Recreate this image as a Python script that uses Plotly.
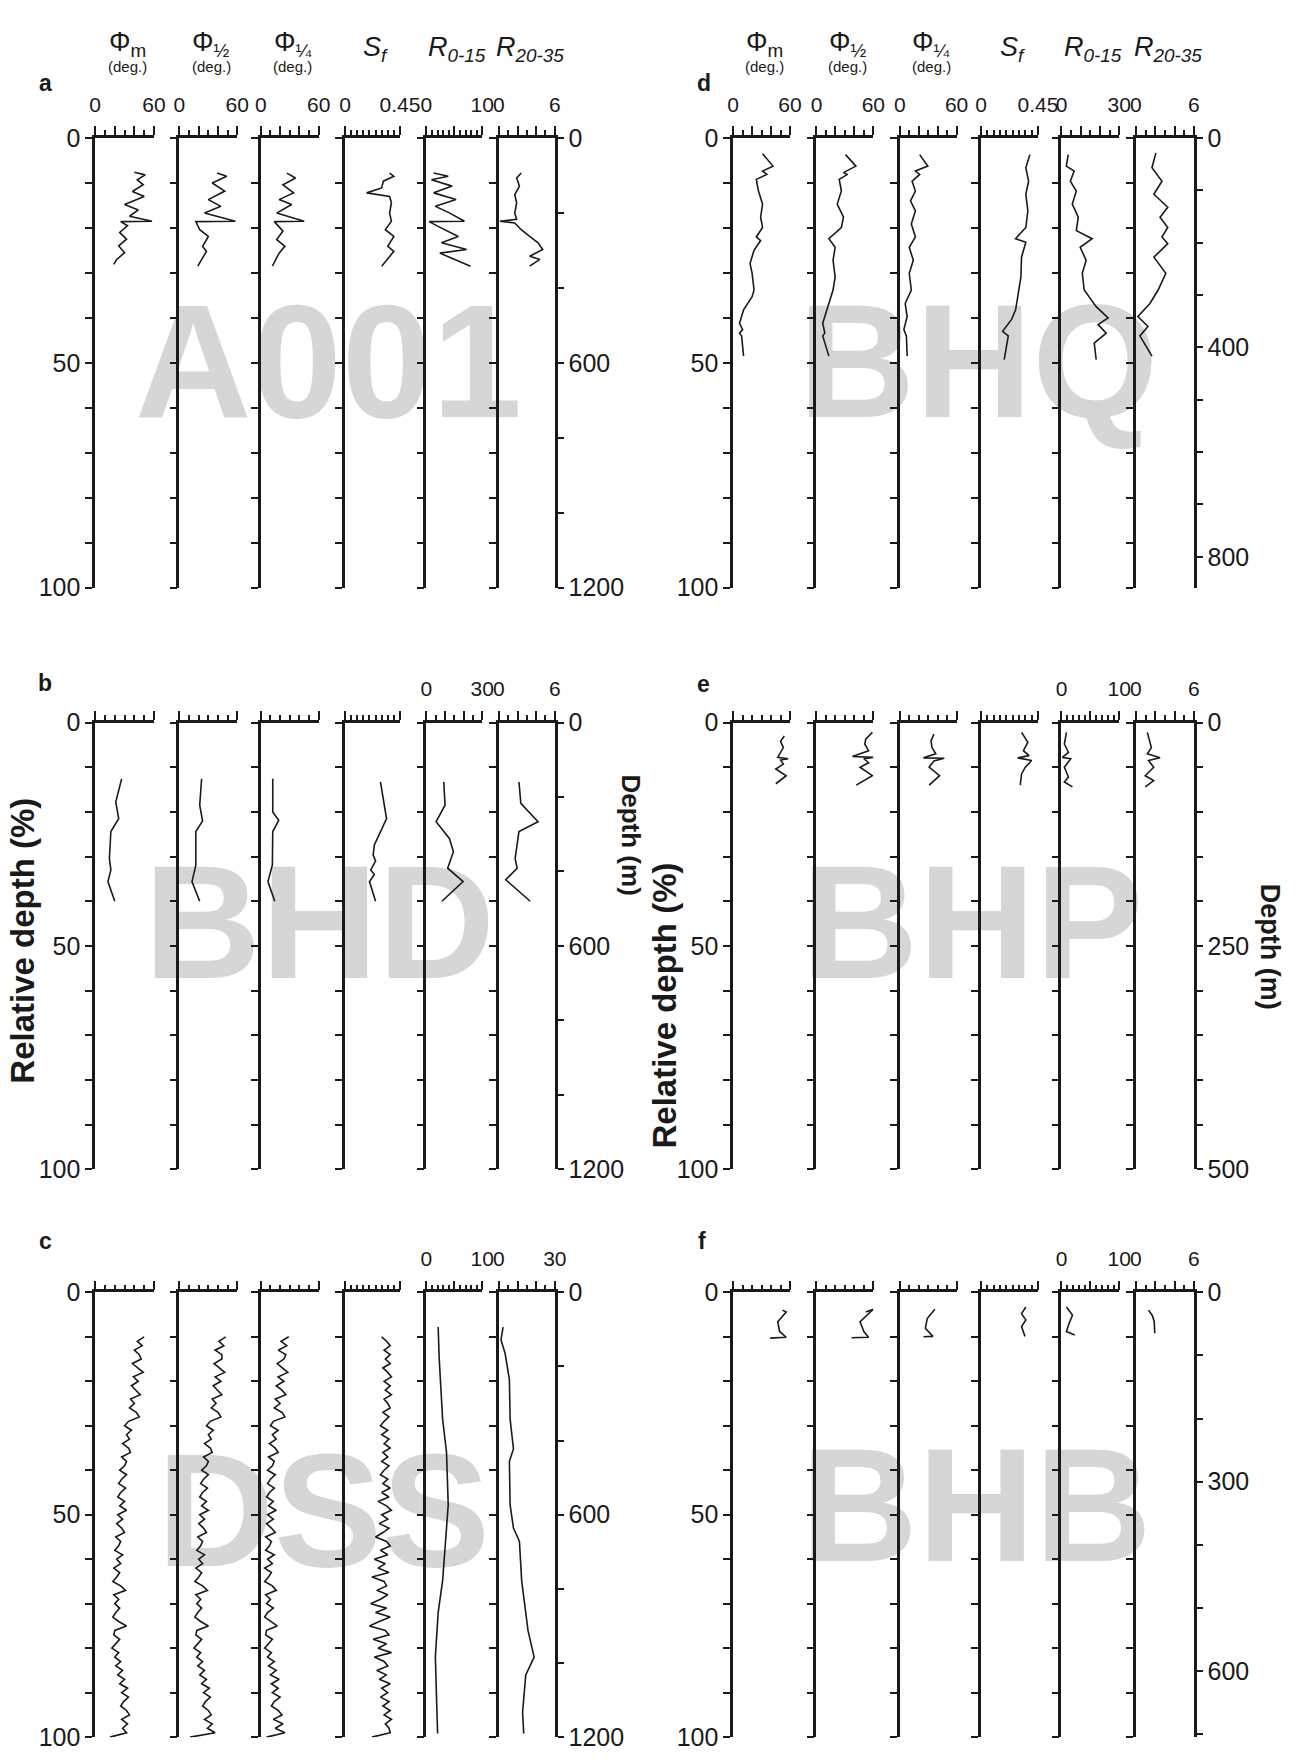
import plotly.graph_objects as go

W, H = 1301, 1760
FONT = "Liberation Sans, Arial, sans-serif"
BLACK = "#1a1a1a"
GRAY = "#d6d6d8"

# ---------------- data ----------------
# Panel a : A001
A_PHIM_D = [7.6, 8.2, 9.3, 10.4, 11.9, 13.0, 14.8, 16.0, 17.4, 18.5, 18.6, 19.5, 21.0, 22.5, 24.0, 25.5, 27.0, 28.1]
A_PHIM_X = [40, 51, 43, 49, 38, 50, 30, 44, 35, 58, 26, 33, 25, 32, 24, 30, 22, 19]
A_PHIH_D = [7.8, 8.5, 10.0, 11.8, 13.7, 15.2, 16.7, 18.5, 18.6, 20.4, 21.9, 24.1, 25.2, 28.5]
A_PHIH_X = [39, 49, 34, 47, 30, 43, 26, 58, 17, 21, 30, 24, 28, 19]
A_PHIQ_D = [7.8, 8.9, 10.4, 12.2, 13.7, 14.8, 16.7, 18.5, 18.6, 20.7, 22.6, 24.1, 25.6, 28.5]
A_PHIQ_X = [27, 36, 23, 34, 19, 32, 16.5, 45, 14, 23, 16.5, 25, 19, 12]
A_SF_D = [7.8, 8.5, 9.6, 11.1, 12.2, 13.0, 14.4, 16.7, 18.5, 20.4, 21.9, 24.1, 25.2, 28.5]
A_SF_X = [0.365, 0.40, 0.314, 0.30, 0.177, 0.365, 0.38, 0.365, 0.38, 0.33, 0.40, 0.35, 0.40, 0.30]
A_R015_D = [7.8, 8.5, 9.3, 10.7, 12.2, 13.7, 15.2, 16.7, 18.5, 18.6, 19.6, 21.9, 23.3, 24.8, 25.6, 28.5]
A_R015_X = [1.3, 3.9, 0.9, 4.6, 1.3, 5.3, 1.6, 4.2, 6.8, 0.5, 2.0, 5.7, 2.7, 7.2, 2.4, 7.9]
A_R2035_D = [7.8, 8.9, 10.7, 12.6, 14.4, 16.7, 18.1, 18.5, 18.9, 20.4, 21.9, 23.3, 24.8, 26.3, 27.0, 28.5]
A_R2035_X = [2.4, 1.9, 2.2, 1.7, 1.9, 1.7, 1.9, 0.1, 1.7, 2.4, 3.3, 4.2, 4.7, 3.3, 4.4, 3.3]

# Panel b : BHD
B_PHIM_D = [12.6, 17.8, 21.5, 24.4, 30.4, 33.0, 35.6, 40.0]
B_PHIM_X = [27, 21, 24, 16, 14.5, 16, 13, 20]
B_PHIH_D = [12.6, 18.5, 22.0, 24.4, 31.9, 35.6, 40.0]
B_PHIH_X = [23, 21, 24, 17, 17, 13, 21]
B_PHIQ_D = [12.6, 20.0, 21.9, 24.4, 31.9, 33.5, 35.6, 40.0]
B_PHIQ_X = [12.4, 12.4, 18.6, 12.4, 12, 10, 7.4, 14.5]
B_SF_D = [13.3, 21.5, 27.4, 29.6, 31.0, 33.0, 34.0, 35.6, 40.0]
B_SF_X = [0.29, 0.34, 0.24, 0.23, 0.25, 0.21, 0.24, 0.20, 0.25]
B_R015_D = [13.3, 18.5, 22.2, 26.0, 28.9, 32.6, 35.6, 40.0]
B_R015_X = [9.3, 10, 5.2, 12.4, 14.5, 11.4, 19.7, 8.3]
B_R2035_D = [13.3, 18.1, 22.2, 24.4, 30.4, 32.6, 35.2, 40.0]
B_R2035_X = [2.15, 2.35, 4.2, 2.15, 1.74, 1.95, 0.73, 3.36]

# Panel c : DSS
C_D = [10, 11, 12, 13, 14, 15, 16, 17, 18, 19, 20,
       21, 22, 23, 24, 25, 26, 27, 28, 29, 30,
       31, 32, 33, 34, 35, 36, 37, 38, 39, 40,
       41, 42, 43, 44, 45, 46, 47, 48, 49, 50,
       51, 52, 53, 54, 55, 56, 57, 58, 59, 60,
       61, 62, 63, 64, 65, 66, 67, 68, 69, 70,
       71, 72, 73, 74, 75, 76, 77, 78, 79, 80,
       81, 82, 83, 84, 85, 86, 87, 88, 89, 90,
       91, 92, 93, 94, 95, 96, 97, 98, 99, 100]
C_PHIM_X = [50, 43, 48, 40, 45, 47, 38, 43, 49, 39, 44,
            37, 42, 46, 36, 40, 35, 42, 45, 34, 30,
            37, 32, 35, 28, 34, 36, 27, 32, 30, 25,
            32, 27, 24, 31, 26, 23, 30, 25, 32, 23,
            28, 22, 27, 30, 21, 26, 24, 20, 28, 22,
            26, 19, 25, 22, 18, 26, 31, 19, 24, 20,
            25, 21, 18, 24, 32, 20, 19, 25, 21, 17,
            24, 20, 26, 21, 28, 23, 30, 25, 33, 27,
            34, 29, 26, 32, 35, 27, 33, 28, 32, 15]
C_PHIH_X = [48, 41, 46, 37, 44, 44, 36, 41, 47, 37, 43,
            35, 40, 44, 34, 38, 33, 40, 43, 32, 28,
            35, 30, 33, 26, 32, 34, 25, 30, 28, 23,
            30, 25, 22, 29, 24, 21, 28, 23, 30, 21,
            26, 20, 25, 28, 19, 24, 22, 18, 26, 20,
            24, 17, 23, 20, 16, 24, 29, 17, 22, 18,
            23, 19, 16, 22, 30, 18, 17, 23, 19, 15,
            22, 18, 24, 19, 26, 21, 28, 23, 31, 25,
            32, 27, 24, 30, 33, 26, 34, 29, 37, 11]
C_PHIQ_X = [29, 21, 27, 18, 26, 24, 17, 22, 28, 18, 24,
            16, 22, 26, 15, 20, 14, 22, 25, 13, 10,
            18, 12, 16, 9, 15, 18, 8, 14, 12, 7,
            15, 10, 7, 14, 9, 6, 13, 8, 16, 7,
            13, 6, 11, 15, 5, 11, 9, 5, 14, 7,
            12, 4, 11, 8, 4, 12, 16, 5, 10, 6,
            13, 7, 4, 11, 17, 6, 5, 12, 8, 4,
            11, 7, 14, 8, 16, 10, 19, 11, 18, 12,
            20, 14, 11, 18, 22, 13, 23, 15, 25, 6]
C_SF_X = [0.30, 0.34, 0.37, 0.32, 0.37, 0.33, 0.37, 0.31, 0.35, 0.38, 0.32,
          0.37, 0.33, 0.38, 0.32, 0.35, 0.37, 0.31, 0.36, 0.32, 0.29,
          0.35, 0.30, 0.36, 0.32, 0.37, 0.31, 0.35, 0.30, 0.36, 0.32,
          0.29, 0.35, 0.31, 0.37, 0.30, 0.36, 0.27, 0.34, 0.38, 0.30,
          0.35, 0.28, 0.36, 0.31, 0.25, 0.34, 0.37, 0.29, 0.35, 0.24,
          0.33, 0.27, 0.36, 0.22, 0.32, 0.34, 0.26, 0.35, 0.29, 0.21,
          0.34, 0.25, 0.37, 0.28, 0.20, 0.33, 0.36, 0.23, 0.34, 0.27,
          0.38, 0.24, 0.32, 0.35, 0.26, 0.34, 0.28, 0.37, 0.30, 0.35,
          0.29, 0.36, 0.31, 0.37, 0.32, 0.38, 0.33, 0.36, 0.37, 0.22]
C_R015_D = [7.8, 15.2, 28.5, 36.0, 47.8, 53.7, 64.8, 72.0, 81.9, 90.7, 99.2]
C_R015_X = [2.1, 2.3, 2.9, 3.6, 3.9, 3.6, 2.9, 2.1, 1.6, 1.8, 2.0]
C_R2035_D = [7.8, 10.7, 13.7, 19.6, 28.5, 35.2, 38.0, 47.8, 53.0, 56.0, 64.8, 76.0, 82.0, 86.0, 94.4, 99.2]
C_R2035_X = [2.2, 1.1, 3.3, 5.6, 6.0, 7.8, 5.6, 6.0, 7.8, 11, 12.2, 15.6, 18.9, 14.4, 12.7, 13.3]

# Panel d : BHQ
D_PHIM_D = [3.5, 6.25, 7.35, 8.1, 9.2, 11.8, 14.7, 17.6, 19.9, 22.0, 22.8, 25.0, 27.9, 30.1, 33.8, 35.3, 38.2, 41.2, 42.6, 43.4, 44.0, 48.5]
D_PHIM_X = [31, 42, 31, 35.6, 24.4, 26.7, 31, 29, 31, 24.4, 29, 22, 17.8, 20, 22, 20, 11, 6.7, 10, 6.7, 8.9, 11]
D_PHIH_D = [3.7, 6.25, 7.7, 8.1, 9.2, 11.8, 14.7, 17.6, 19.9, 22.4, 24.3, 27.2, 30.9, 33.8, 38.2, 41.2, 43.4, 44.0, 48.5]
D_PHIH_X = [30.7, 41.6, 28.5, 32.8, 24, 26.3, 21.9, 28.5, 26.3, 13.1, 19.7, 17.5, 19.7, 17.5, 11, 6.6, 8.8, 6.6, 13.1]
D_PHIQ_D = [3.7, 6.25, 7.35, 8.1, 9.6, 11.8, 14.0, 16.2, 19.1, 22.0, 24.3, 27.2, 30.1, 33.8, 36.8, 39.7, 42.6, 44.0, 48.5]
D_PHIQ_X = [21, 29.6, 16.5, 21, 13, 16.5, 11.3, 16.5, 12.2, 16.5, 10, 14.3, 10, 12.2, 5.7, 7.8, 4.3, 7, 7.8]
D_SF_D = [3.7, 6.6, 9.6, 12.5, 16.2, 19.9, 22.4, 23.2, 26.5, 30.9, 35.3, 38.2, 40.4, 43.0, 44.0, 49.3]
D_SF_X = [0.386, 0.354, 0.376, 0.354, 0.37, 0.354, 0.273, 0.354, 0.32, 0.315, 0.29, 0.273, 0.24, 0.17, 0.215, 0.183]
D_R015_D = [3.7, 6.25, 7.35, 9.6, 11.8, 14.7, 17.6, 20.6, 22.4, 24.3, 27.2, 30.1, 33.8, 37.5, 40.0, 41.5, 43.4, 45.6, 49.3]
D_R015_X = [3.5, 2.5, 6.6, 4.6, 7.7, 5.6, 8.7, 7.7, 15.9, 9.7, 12.8, 10.8, 11.8, 18, 24.2, 19, 23.2, 17, 18]
D_R2035_D = [3.3, 6.6, 9.6, 12.5, 15.4, 17.6, 19.9, 22.0, 23.5, 26.5, 30.1, 33.8, 36.8, 39.7, 41.9, 44.0, 48.5]
D_R2035_X = [2.07, 1.66, 2.7, 1.86, 3.3, 2.5, 3.3, 2.7, 3.3, 1.86, 3.1, 2.3, 1.45, 0.2, 1.24, 0.41, 1.66]

# Panel e : BHP
E_PHIM_D = [3.0, 4.2, 5.6, 6.7, 7.8, 8.1, 8.4, 9.3, 10.4, 11.9, 13.7]
E_PHIM_X = [54, 50, 53, 50, 47, 58, 50, 53, 45, 56, 45]
E_PHIH_D = [2.2, 3.7, 4.8, 6.3, 7.6, 7.8, 8.1, 9.0, 10.0, 11.9, 14.0]
E_PHIH_X = [59, 52, 51, 55, 38, 60, 50, 55, 46, 59, 42]
E_PHIQ_D = [2.6, 4.1, 5.6, 7.0, 7.9, 8.0, 8.6, 10.0, 11.9, 14.0]
E_PHIQ_X = [36, 33, 34, 38, 25, 47, 36, 31, 42, 31]
E_SF_D = [2.2, 4.4, 6.3, 7.4, 7.9, 8.5, 10.0, 11.5, 14.0]
E_SF_X = [0.32, 0.37, 0.335, 0.38, 0.29, 0.40, 0.35, 0.32, 0.31]
E_R015_D = [2.2, 4.8, 6.7, 7.8, 8.1, 10.0, 12.2, 13.3, 14.4]
E_R015_X = [0.86, 0.5, 1.2, 0.15, 1.6, 0.5, 1.2, 0.5, 1.9]
E_R2035_D = [2.2, 5.6, 7.0, 7.9, 8.5, 10.0, 11.9, 13.0, 14.4]
E_R2035_X = [1.18, 1.6, 1.18, 2.5, 1.3, 1.84, 0.96, 1.84, 0.96]

# Panel f : BHB
F_PHIM_D = [4.0, 4.4, 6.6, 8.8, 10.1, 10.3]
F_PHIM_X = [52, 56, 47, 49, 56, 39]
F_PHIH_D = [4.4, 3.8, 6.6, 8.8, 10.1, 10.2]
F_PHIH_X = [52, 60, 46, 50, 55, 37]
F_PHIQ_D = [3.8, 5.9, 8.1, 9.9, 10.0]
F_PHIQ_X = [37, 29, 27, 35, 25]
F_SF_D = [3.3, 4.8, 6.2, 7.7, 9.9]
F_SF_X = [0.354, 0.32, 0.354, 0.32, 0.347]
F_R015_D = [3.3, 5.1, 7.4, 8.8, 9.6]
F_R015_X = [0.86, 1.9, 1.2, 0.86, 2.3]
F_R2035_D = [4.0, 5.2, 6.6, 9.2]
F_R2035_X = [1.3, 1.7, 1.9, 1.95]

PANEL_LETTERS = ["a", "b", "c", "d", "e", "f"]
WELLS = ["A001", "BHD", "DSS", "BHQ", "BHP", "BHB"]
PHI_MAX = 60
SF_MAX = 0.45
R015_MAX = [10, 30, 10, 30, 10, 10]
R2035_MAX = [6, 6, 30, 6, 6, 6]
DEPTH_MAX_M = [1200, 1200, 1200, 859, 500, 705]
DEPTH_LABELS_M = [[0, 600, 1200], [0, 600, 1200], [0, 600, 1200], [0, 400, 800], [0, 250, 500], [0, 300, 600]]
DEPTH_MINOR_M = [200, 200, 200, 100, 50, 100]
REL_LABEL_TICKS = [0, 50, 100]
REL_MINOR = 10

PANEL_DATA = [
    [(A_PHIM_D, A_PHIM_X), (A_PHIH_D, A_PHIH_X), (A_PHIQ_D, A_PHIQ_X), (A_SF_D, A_SF_X), (A_R015_D, A_R015_X), (A_R2035_D, A_R2035_X)],
    [(B_PHIM_D, B_PHIM_X), (B_PHIH_D, B_PHIH_X), (B_PHIQ_D, B_PHIQ_X), (B_SF_D, B_SF_X), (B_R015_D, B_R015_X), (B_R2035_D, B_R2035_X)],
    [(C_D, C_PHIM_X), (C_D, C_PHIH_X), (C_D, C_PHIQ_X), (C_D, C_SF_X), (C_R015_D, C_R015_X), (C_R2035_D, C_R2035_X)],
    [(D_PHIM_D, D_PHIM_X), (D_PHIH_D, D_PHIH_X), (D_PHIQ_D, D_PHIQ_X), (D_SF_D, D_SF_X), (D_R015_D, D_R015_X), (D_R2035_D, D_R2035_X)],
    [(E_PHIM_D, E_PHIM_X), (E_PHIH_D, E_PHIH_X), (E_PHIQ_D, E_PHIQ_X), (E_SF_D, E_SF_X), (E_R015_D, E_R015_X), (E_R2035_D, E_R2035_X)],
    [(F_PHIM_D, F_PHIM_X), (F_PHIH_D, F_PHIH_X), (F_PHIQ_D, F_PHIQ_X), (F_SF_D, F_SF_X), (F_R015_D, F_R015_X), (F_R2035_D, F_R2035_X)],
]

# ---------------- layout geometry (screen pixels) ----------------
COLS = [
    [(91, 151), (177, 236), (260, 319), (346, 402), (429, 486), (503, 560)],
    [(742, 800), (827, 885), (912, 970), (995, 1053), (1077, 1136), (1153, 1212)],
]
ROWS = [(126, 583), (720, 1174), (1299, 1751)]
PANEL_POS = [(0, 0), (0, 1), (0, 2), (1, 0), (1, 1), (1, 2)]  # (col, row)
WM_CENTER = [(329, 337), (320, 907), (324, 1504), (992, 337), (986, 907), (990, 1499)]


def fx(p):
    return p / W


def fy(p):
    return 1 - p / H


def tick_spec(vmax):
    if vmax == 60:
        return [0, 20, 40, 60], ["0", "", "", "60"], 10
    if vmax == 0.45:
        return [0, 0.45], ["0", "0.45"], 0.05
    if vmax == 10:
        return [0, 5, 10], ["0", "", "10"], 1
    if vmax == 30:
        return [0, 10, 20, 30], ["0", "", "", "30"], 5
    return [0, 2, 4, 6], ["0", "", "", "6"], 1


fig = go.Figure()
layout = {}
annotations = []
shapes = []

n = 0
right_axes = []
for p in range(6):
    col, row = PANEL_POS[p]
    top, bot = ROWS[row]
    ydom = [fy(bot), fy(top)]
    ranges = [PHI_MAX, PHI_MAX, PHI_MAX, SF_MAX, R015_MAX[p], R2035_MAX[p]]
    show_top = [True] * 6 if row == 0 else [False, False, False, False, True, True]
    for k in range(6):
        n += 1
        xref = "x" if n == 1 else f"x{n}"
        yref = "y" if n == 1 else f"y{n}"
        xkey = "xaxis" if n == 1 else f"xaxis{n}"
        ykey = "yaxis" if n == 1 else f"yaxis{n}"
        x0, x1 = COLS[col][k]
        vmax = ranges[k]
        tv, tt, mdt = tick_spec(vmax)
        layout[xkey] = dict(
            domain=[fx(x0), fx(x1)], range=[0, vmax], side="top", anchor=yref,
            showline=True, linewidth=2.5, linecolor=BLACK,
            ticks="outside", ticklen=9, tickwidth=2, tickcolor=BLACK,
            tickmode="array", tickvals=tv, ticktext=tt,
            showticklabels=show_top[k], ticklabelstandoff=6,
            minor=dict(ticks="outside", tick0=0, dtick=mdt, ticklen=5, tickwidth=2,
                       tickcolor=BLACK, showgrid=False),
            showgrid=False, zeroline=False, fixedrange=True,
            tickfont=dict(size=21, color=BLACK, family=FONT),
        )
        layout[ykey] = dict(
            domain=ydom, range=[100, 0], anchor=xref, side="left",
            showline=True, linewidth=2.5, linecolor=BLACK,
            ticks="outside", ticklen=7, tickwidth=2, tickcolor=BLACK,
            tickmode="array", tickvals=REL_LABEL_TICKS,
            ticktext=[str(t) for t in REL_LABEL_TICKS],
            minor=dict(ticks="outside", tick0=0, dtick=REL_MINOR, ticklen=7, tickwidth=2,
                       tickcolor=BLACK, showgrid=False),
            showticklabels=(k == 0),
            showgrid=False, zeroline=False, fixedrange=True,
            tickfont=dict(size=25, color=BLACK, family=FONT),
        )
        d, v = PANEL_DATA[p][k]
        fig.add_trace(go.Scatter(x=v, y=d, mode="lines", xaxis=xref, yaxis=yref,
                                 line=dict(color=BLACK, width=1.6),
                                 hoverinfo="skip", showlegend=False))
        if k == 5:
            right_axes.append((p, xref, yref, ydom))

for p, xref, yref, ydom in right_axes:
    n += 1
    rref = f"y{n}"
    layout[f"yaxis{n}"] = dict(
        domain=ydom, range=[DEPTH_MAX_M[p], 0], anchor=xref, overlaying=yref, side="right",
        showline=True, linewidth=2.5, linecolor=BLACK,
        ticks="outside", ticklen=6, tickwidth=2, tickcolor=BLACK,
        tickmode="array", tickvals=DEPTH_LABELS_M[p],
        ticktext=[str(t) for t in DEPTH_LABELS_M[p]],
        minor=dict(ticks="outside", tick0=0, dtick=DEPTH_MINOR_M[p], ticklen=6,
                   tickwidth=2, tickcolor=BLACK, showgrid=False),
        showgrid=False, zeroline=False, fixedrange=True,
        tickfont=dict(size=25, color=BLACK, family=FONT),
    )
    fig.add_trace(go.Scatter(x=[None], y=[None], xaxis=xref, yaxis=rref,
                             mode="lines", hoverinfo="skip", showlegend=False))

# watermarks (drawn below the axes and traces)
for p in range(6):
    cx, cy = WM_CENTER[p]
    shapes.append(dict(
        type="rect", xref="paper", yref="paper", layer="below",
        x0=fx(cx - 180), x1=fx(cx + 180), y0=fy(cy + 100), y1=fy(cy - 100),
        line=dict(width=0), fillcolor="rgba(0,0,0,0)",
        label=dict(text=WELLS[p], textposition="middle center",
                   font=dict(size=162, color=GRAY, family=FONT, weight="bold")),
    ))

# column headers
HEAD_MAIN = ["Φ<sub>m</sub>", "Φ<sub>½</sub>", "Φ<sub>¼</sub>",
             "<i>S<sub>f</sub></i>", "<i>R<sub>0-15</sub></i>", "<i>R<sub>20-35</sub></i>"]
for col in range(2):
    for k in range(6):
        x0, x1 = COLS[col][k]
        xc = (x0 + x1) / 2 + 3
        yc = 30 if k < 3 else 36
        annotations.append(dict(x=fx(xc), y=fy(yc), xref="paper", yref="paper",
                                xanchor="center", yanchor="middle", borderpad=0,
                                text=HEAD_MAIN[k], showarrow=False,
                                font=dict(size=27, color=BLACK, family=FONT)))
        if k < 3:
            annotations.append(dict(x=fx(xc), y=fy(53), xref="paper", yref="paper",
                                    xanchor="center", yanchor="middle", borderpad=0,
                                    text="(deg.)", showarrow=False,
                                    font=dict(size=15, color=BLACK, family=FONT)))

# panel letters
LETTER_POS = [(40, 70), (40, 680), (40, 1247), (712, 70), (712, 681), (710, 1247)]
for p in range(6):
    lx, ly = LETTER_POS[p]
    annotations.append(dict(x=fx(lx), y=fy(ly), xref="paper", yref="paper",
                            xanchor="center", yanchor="middle",
                            text=f"<b>{PANEL_LETTERS[p]}</b>", showarrow=False,
                            font=dict(size=23, color=BLACK, family=FONT)))

# axis titles
titles = [
    dict(x=fx(16), y=fy(942), text="<b>Relative depth (%)</b>", textangle=-90,
         font=dict(size=33, color=BLACK, family=FONT)),
    dict(x=fx(638), y=fy(834), text="<b>Depth (m)</b>", textangle=90,
         font=dict(size=26, color=BLACK, family=FONT)),
    dict(x=fx(672), y=fy(1008), text="<b>Relative depth (%)</b>", textangle=-90,
         font=dict(size=33, color=BLACK, family=FONT)),
    dict(x=fx(1290), y=fy(948), text="<b>Depth (m)</b>", textangle=90,
         font=dict(size=27, color=BLACK, family=FONT)),
]
for a in titles:
    a.update(xref="paper", yref="paper", xanchor="center", yanchor="middle", showarrow=False)
annotations += titles

layout.update(dict(
    width=W, height=H, autosize=False,
    margin=dict(l=0, r=0, t=0, b=0),
    paper_bgcolor="white", plot_bgcolor="rgba(0,0,0,0)",
    showlegend=False, annotations=annotations, shapes=shapes,
    font=dict(family=FONT, color=BLACK),
))
fig.update_layout(layout)
fig.write_html("out.html", config={"displayModeBar": False},
               post_script="document.body.style.margin='0px';")
